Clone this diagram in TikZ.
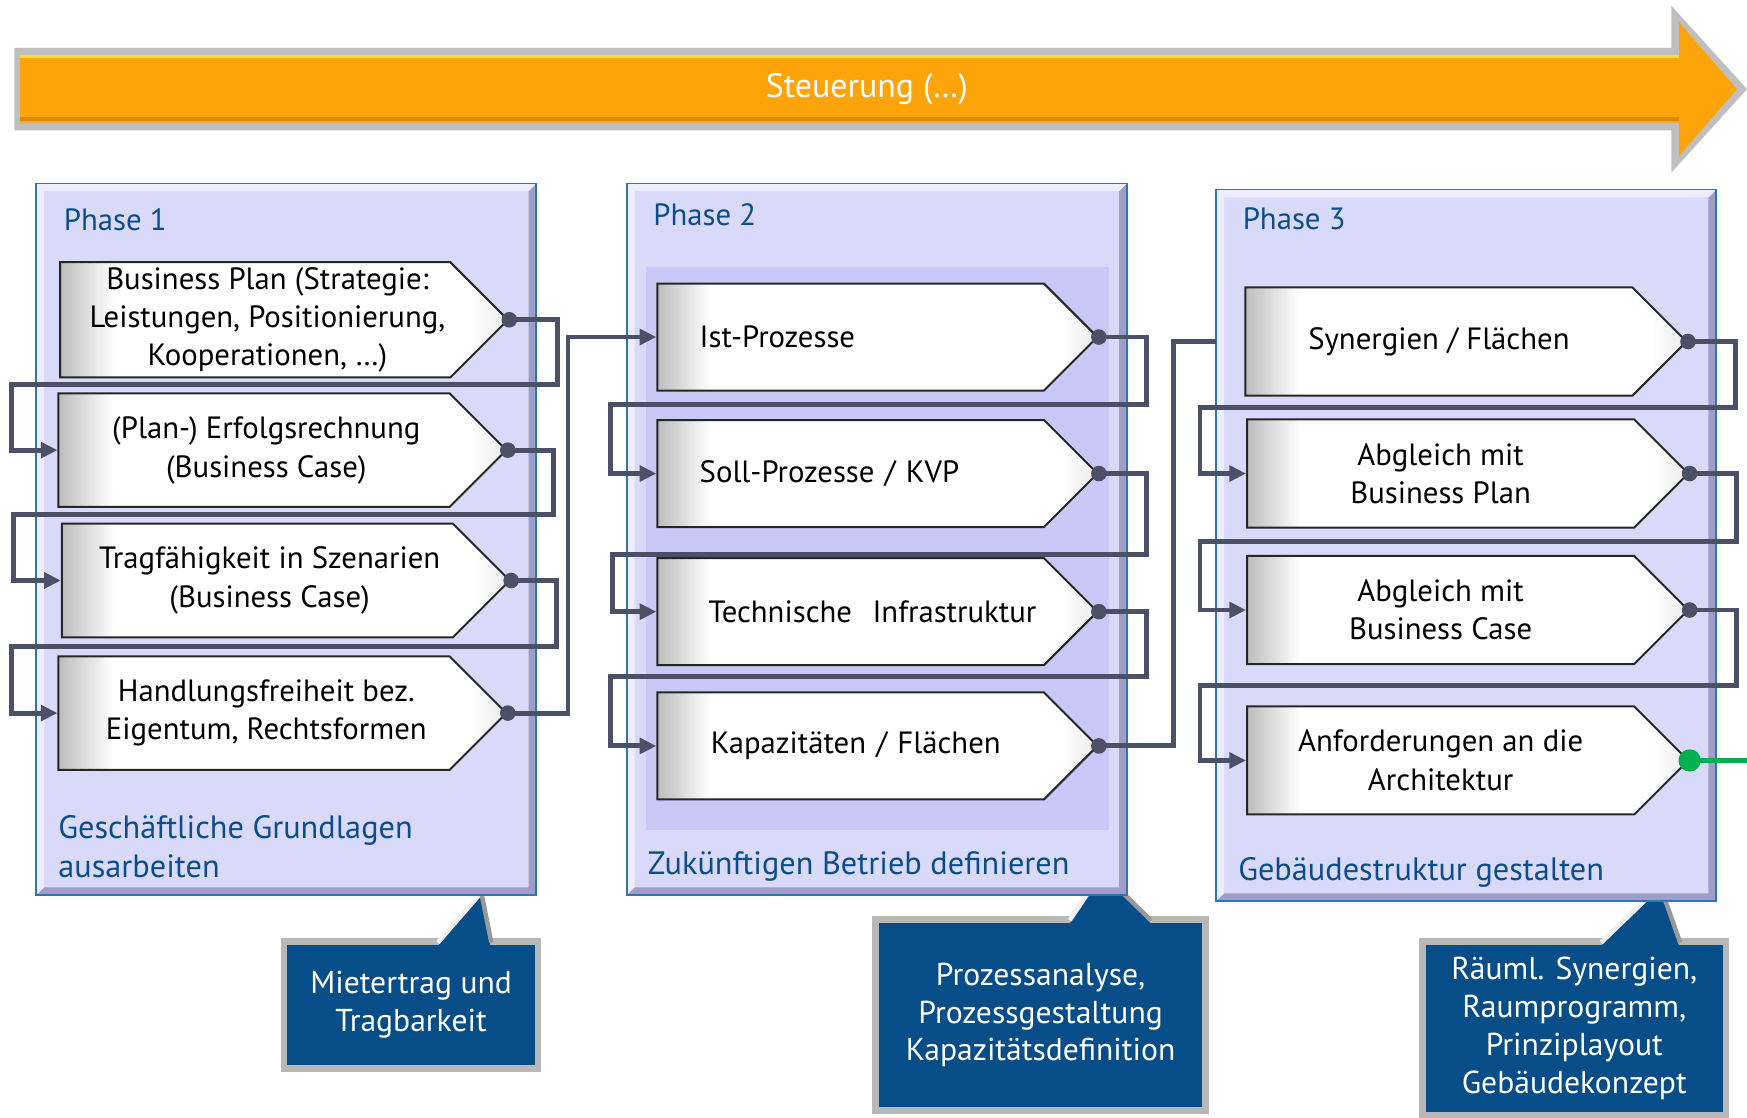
\documentclass[tikz,border=0pt]{standalone}
\usepackage{fontspec}
\setmainfont{PT Sans}
\usetikzlibrary{shapes.symbols,arrows.meta,positioning}

\definecolor{phfill}{HTML}{D9D9FA}
\definecolor{phinner}{HTML}{C9C9F7}
\definecolor{phline}{HTML}{2E75B6}
\definecolor{phdark}{HTML}{9D9DC8}
\definecolor{phlight}{HTML}{EDEDFD}
\definecolor{phtext}{HTML}{0B4C8C}
\definecolor{linkcol}{HTML}{4B5066}
\definecolor{notecol}{HTML}{074E89}
\definecolor{steerorange}{HTML}{FCA40A}
\definecolor{steerdark}{HTML}{E08A00}
\definecolor{steerlight}{HTML}{FFD83A}
\definecolor{okgreen}{HTML}{00B050}

\newcommand\stepfont{\fontsize{13.8}{17.25}\selectfont}
\newcommand\phtitlefont{\fontsize{13.8}{16}\selectfont}
\newcommand\phfootfont{\fontsize{14.5}{17.5}\selectfont}
\newcommand\calloutfont{\fontsize{14.2}{17}\selectfont}
\newcommand\steerfont{\fontsize{15.2}{17}\selectfont}
% text of phase 1 sits a little right of the body centre
\newcommand\rtext[1]{\hspace*{11pt}\begin{tabular}{@{}c@{}}#1\end{tabular}}

\pgfdeclarehorizontalshading{stepshade}{100bp}{color(0bp)=(black!26); color(25bp)=(black!26); color(31bp)=(white); color(71bp)=(white); color(75bp)=(black!8); color(100bp)=(black!8)}

\tikzset{
  phasebox/.style={rectangle, fill=phfill, minimum width=224pt, minimum height=319pt, inner sep=0pt},
  phtitle/.style={anchor=west, text=phtext, font=\phtitlefont, inner sep=0pt},
  phfoot/.style={anchor=west, text=phtext, font=\phfootfont, align=left, inner sep=0pt},
  stepbox/.style={signal, signal to=east, signal pointer angle=90, draw=black!85, line width=0.9pt,
    shading=stepshade, inner sep=0pt, font=\stepfont, align=center},
  stepleft/.style={stepbox, align=left, text width=135.5pt, inner xsep=19pt},
  link/.style={draw=linkcol, line width=2.2pt, -{Triangle[length=7.5pt,width=7pt]}},
  linkplain/.style={draw=linkcol, line width=2.2pt},
  notebox/.style={rectangle, fill=notecol, draw=black!28, line width=3pt, text=white,
    font=\calloutfont, align=center, inner sep=0pt},
  steertext/.style={text=white, font=\steerfont, inner sep=0pt}
}

\begin{document}
\begin{tikzpicture}[x=0.5pt,y=-0.5pt]
\useasboundingbox (0,0) rectangle (1568,1003);
\coordinate (rimR) at (1568,0);

% Steuerung arrow
\fill[black!25] (13,43) -- (1500,43) -- (1500,5) -- (1568,80) -- (1500,155) -- (1500,117) -- (13,117) -- cycle;
\fill[steerorange] (18,50) -- (1507,50) -- (1507,20) -- (1559,80) -- (1507,140) -- (1507,110) -- (18,110) -- cycle;
\draw[steerlight, line width=1.2pt] (18,51) -- (1507,51);
\draw[steerdark, line width=2pt] (18,107) -- (1507,107);
\node[steertext] (steer) at (778,80) {Steuerung (…)};

% callouts
\node[notebox, minimum width=114pt, minimum height=57pt] (n1) at (369,902) {Mietertrag und\\Tragbarkeit};
\node[notebox, minimum width=148pt, minimum height=86pt] (n2) at (934,911) {Prozessanalyse,\\Prozessgestaltung\\Kapazitätsdefinition};
\node[notebox, minimum width=136pt, minimum height=78pt] (n3) at (1413,923) {Räuml. Synergien,\\Raumprogramm,\\Prinziplayout\\Gebäudekonzept};

\fill[notecol] (393,849) -- (432,801) -- (440,849) -- cycle;
\draw[black!6, line width=2pt] (393,846) -- (432,801);
\draw[black!40, line width=2pt] (441,846) -- (432,801);
\fill[notecol] (960,829) -- (989,783) -- (1033,829) -- cycle;
\draw[black!6, line width=2pt] (960,826) -- (989,783);
\draw[black!40, line width=2pt] (1033,826) -- (989,783);
\fill[notecol] (1437,849) -- (1490,795) -- (1507,849) -- cycle;
\draw[black!6, line width=2pt] (1437,846) -- (1490,795);
\draw[black!40, line width=2pt] (1508,846) -- (1490,795);

% phases
\node[phasebox] (ph1) at (257,484) {};
\node[phasebox] (ph2) at (787,484) {};
\node[phasebox] (ph3) at (1316,489.5) {};
\foreach \p in {ph1,ph2,ph3} {
  \fill[phdark] (\p.north east) -- (\p.south east) -- (\p.south west) -- ([shift={(7,-7)}]\p.south west)
    -- ([shift={(-7,-7)}]\p.south east) -- ([shift={(-7,7)}]\p.north east) -- cycle;
  \fill[phlight] (\p.south west) -- (\p.north west) -- (\p.north east) -- ([shift={(-7,7)}]\p.north east)
    -- ([shift={(7,7)}]\p.north west) -- ([shift={(7,-7)}]\p.south west) -- cycle;
  \draw[phline, line width=0.8pt] (\p.south west) rectangle (\p.north east);
}
\fill[phinner] (580,240) rectangle (995,745);

\node[phtitle] (t1) at (57,197) {Phase 1};
\node[phtitle] (t2) at (586,193) {Phase 2};
\node[phtitle] (t3) at (1115,196) {Phase 3};
\node[phfoot] (f1) at (52,760) {Geschäftliche Grundlagen\\ausarbeiten};
\node[phfoot] (f2) at (581,778) {Zukünftigen Betrieb definieren};
\node[phfoot] (f3) at (1111,783) {Gebäudestruktur gestalten};

% steps phase 1
\node[stepbox, minimum width=201pt, minimum height=51pt] (b1) at (229,287) {\rtext{Business Plan (Strategie:\\Leistungen, Positionierung,\\Kooperationen, …)}};
\node[stepbox, minimum width=201pt, minimum height=51pt] (b2) at (228,404) {\rtext{(Plan-) Erfolgsrechnung\\(Business Case)}};
\node[stepbox, minimum width=201pt, minimum height=51pt] (b3) at (231,521) {\rtext{Tragfähigkeit in Szenarien\\(Business Case)}};
\node[stepbox, minimum width=201pt, minimum height=51pt] (b4) at (228,640) {\rtext{Handlungsfreiheit bez.\\Eigentum, Rechtsformen}};

% steps phase 2
\node[stepleft, minimum height=48pt] (k1) at (763.5,302.5) {Ist-Prozesse};
\node[stepleft, minimum height=48pt] (k2) at (763.5,425) {Soll-Prozesse / KVP};
\node[stepleft, minimum height=48pt] (k3) at (763.5,549) {\mbox{\hspace*{4pt}Technische\ \ Infrastruktur}};
\node[stepleft, minimum height=48pt] (k4) at (763.5,669.5) {\hspace*{5pt}Kapazitäten / Flächen};

% steps phase 3
\node[stepbox, minimum width=198pt, minimum height=48.5pt] (s1) at (1291.5,306.5) {Synergien / Flächen};
\node[stepbox, minimum width=198pt, minimum height=48.5pt] (s2) at (1293,425) {Abgleich mit\\Business Plan};
\node[stepbox, minimum width=198pt, minimum height=48.5pt] (s3) at (1293,547.5) {Abgleich mit\\Business Case};
\node[stepbox, minimum width=198pt, minimum height=48.5pt] (s4) at (1293,682.5) {Anforderungen an die\\Architektur};

% connectors
\draw[link] (b1.east) -- ++(43,0) |- (10,345) |- (b2.west);
\draw[link] (b2.east) -- ++(41,0) |- (12,462) |- (b3.west);
\draw[link] (b3.east) -- ++(41,0) |- (10,580) |- (b4.west);
\draw[link] (b4.east) -- ++(54,0) |- (k1.west);
\draw[link] (k1.east) -- ++(43,0) |- (548,363) |- (k2.west);
\draw[link] (k2.east) -- ++(43,0) |- (550,498) |- (k3.west);
\draw[link] (k3.east) -- ++(43,0) |- (548,607) |- (k4.west);
\draw[linkplain] (k4.east) -- ++(67,0) |- (s1.west -| ph3.west);
\draw[link] (s1.east) -- ++(43,0) |- (1077,366) |- (s2.west);
\draw[link] (s2.east) -- ++(42,0) |- (1077,486) |- (s3.west);
\draw[link] (s3.east) -- ++(42,0) |- (1077,615) |- (s4.west);
\draw[okgreen, line width=2.2pt] (s4.east) -- (s4.east -| rimR);

\foreach \n in {b1,b2,b3,b4,k1,k2,k3,k4,s1,s2,s3}
  \fill[linkcol] (\n.east) circle (3.5pt);
\fill[okgreen] (s4.east) circle (5pt);
\end{tikzpicture}
\end{document}
